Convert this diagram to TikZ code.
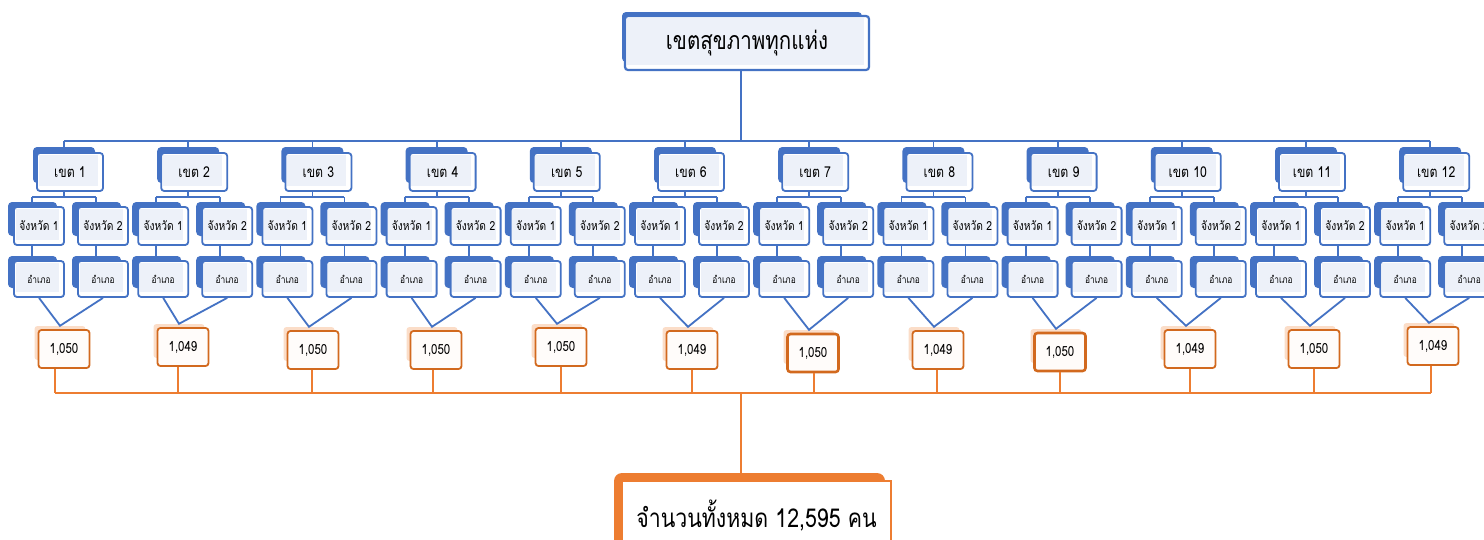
\documentclass[tikz,border=0pt]{standalone}
\usepackage{fontspec}
\setmainfont[Script=Thai,FakeStretch=0.82]{Loma}
\definecolor{oblue}{HTML}{4472C4}
\definecolor{paleblue}{HTML}{EDF1F9}
\definecolor{oorange}{HTML}{ED7D31}
\definecolor{numborder}{HTML}{D2691E}
\definecolor{numback}{HTML}{FBDDC8}
\definecolor{numfill}{HTML}{FFFCFA}
\def\na{1,050}
\def\nb{1,049}
\begin{document}
\begin{tikzpicture}[x=1pt,y=-1pt,
  bline/.style={draw=oblue,line width=1.8pt},
  oline/.style={draw=oorange,line width=2.2pt},
  blueback/.style={fill=oblue,rounded corners=4pt,inner sep=0pt},
  bluefront/.style={draw=oblue,line width=1.8pt,fill=white,rounded corners=3pt,inner sep=0pt,
    path picture={\fill[paleblue,sharp corners] ([xshift=1.5pt,yshift=-1.5pt]path picture bounding box.north west) rectangle ([xshift=-5pt,yshift=5pt]path picture bounding box.south east);}},
  numbackbox/.style={fill=numback,rounded corners=3pt,inner sep=0pt,minimum width=51pt,minimum height=34pt},
  numbox/.style={draw=numborder,line width=1.8pt,fill=numfill,rounded corners=3pt,inner sep=0pt,minimum width=51pt,minimum height=38pt,font=\fontsize{14}{16}\selectfont},
  zonefont/.style={font=\fontsize{15}{17}\selectfont},
  provfont/.style={font=\fontsize{12.5}{14}\selectfont},
  ampfont/.style={font=\fontsize{10.2}{12}\selectfont}
]
\clip (0,0) rectangle (1484,539);
\fill[white] (0,0) rectangle (1484,539);

% top box
\node[blueback,minimum width=240pt,minimum height=50pt] (topb) at (742,37) {};
\node[bluefront,line width=2.2pt,minimum width=244pt,minimum height=54pt,font=\fontsize{25}{28}\selectfont] (top) at (747,43) {เขตสุขภาพทุกแห่ง};
\coordinate (t0) at (741,141);
\draw[bline] (top.south -| t0) -- (t0);

\foreach \i in {1,...,12}{
  \pgfmathsetmacro\c{64+124.2*(\i-1)}
  \coordinate (t\i) at (\c,141);
  \node[blueback,minimum width=62pt,minimum height=36pt] (zb\i) at (\c,165) {};
  \node[bluefront,zonefont,minimum width=66pt,minimum height=38pt] (z\i) at (\c+6,172) {เขต \i};
  \draw[bline] (t\i) -- (zb\i.north -| t\i);
  \coordinate (s\i) at (\c,197);
  \coordinate (sa\i) at (\c-32,197);
  \coordinate (sb\i) at (\c+32,197);
  \draw[bline] (z\i.south -| s\i) -- (s\i);
  \draw[bline] (sa\i) -- (sb\i);
  % provinces
  \node[blueback,minimum width=49pt,minimum height=34pt] (pba\i) at (\c-32+0.5,219) {};
  \node[bluefront,provfont,minimum width=50pt,minimum height=38pt] (pa\i) at (\c-32+7,226) {จังหวัด 1};
  \node[blueback,minimum width=49pt,minimum height=34pt] (pbb\i) at (\c+32+0.5,219) {};
  \node[bluefront,provfont,minimum width=50pt,minimum height=38pt] (pb\i) at (\c+32+7,226) {จังหวัด 2};
  \draw[bline] (sa\i) -- (pba\i.north -| sa\i);
  \draw[bline] (sb\i) -- (pbb\i.north -| sb\i);
  % amphoe
  \node[blueback,minimum width=49pt,minimum height=32pt] (aba\i) at (\c-32+0.5,272) {};
  \node[bluefront,ampfont,minimum width=50pt,minimum height=36pt] (aa\i) at (\c-32+7,279) {อำเภอ};
  \node[blueback,minimum width=49pt,minimum height=32pt] (abb\i) at (\c+32+0.5,272) {};
  \node[bluefront,ampfont,minimum width=50pt,minimum height=36pt] (ab\i) at (\c+32+7,279) {อำเภอ};
  \draw[bline] (pa\i.south -| sa\i) -- (aba\i.north -| sa\i);
  \draw[bline] (pb\i.south -| sb\i) -- (abb\i.north -| sb\i);
}
\draw[bline] (t1) -- (t12);

% number boxes
\foreach \i/\x/\y/\v/\w/\lx in {1/64/349/\na/1.8/55, 2/183/347/\nb/1.8/178, 3/313/350/\na/1.8/312,
  4/436/350/\na/1.8/433, 5/561/347/\na/1.8/561, 6/692/350/\nb/1.8/692, 7/813/353/\na/2.6/814,
  8/938/350/\nb/1.8/937, 9/1060/352/\na/2.6/1060, 10/1190/349/\nb/1.8/1190, 11/1314/349/\na/1.8/1314,
  12/1433/346/\nb/1.8/1431}{
  \node[numbackbox] (nk\i) at (\x-4,\y-6) {};
  \node[numbox,line width=\w pt] (n\i) at (\x,\y) {\v};
  \draw[bline] (aa\i.south) -- (nk\i.north) -- (ab\i.south);
  \coordinate (b\i) at (\lx,393);
  \draw[oline] (n\i.south -| b\i) -- (b\i);
}
\draw[oline] (b1) -- (b12);
\coordinate (bm) at (741,393);

% total box
\node[fill=oorange,rounded corners=8pt,inner sep=0pt,minimum width=271pt,minimum height=87pt] (totb) at (749.5,516.5) {};
\node[draw=oorange,line width=2pt,fill=white,inner sep=0pt,minimum width=269pt,minimum height=70pt,font=\fontsize{26}{28}\selectfont] (tot) at (756.5,516) {จำนวนทั้งหมด 12,595 คน};
\draw[oline] (bm) -- (totb.north -| bm);
\end{tikzpicture}
\end{document}
